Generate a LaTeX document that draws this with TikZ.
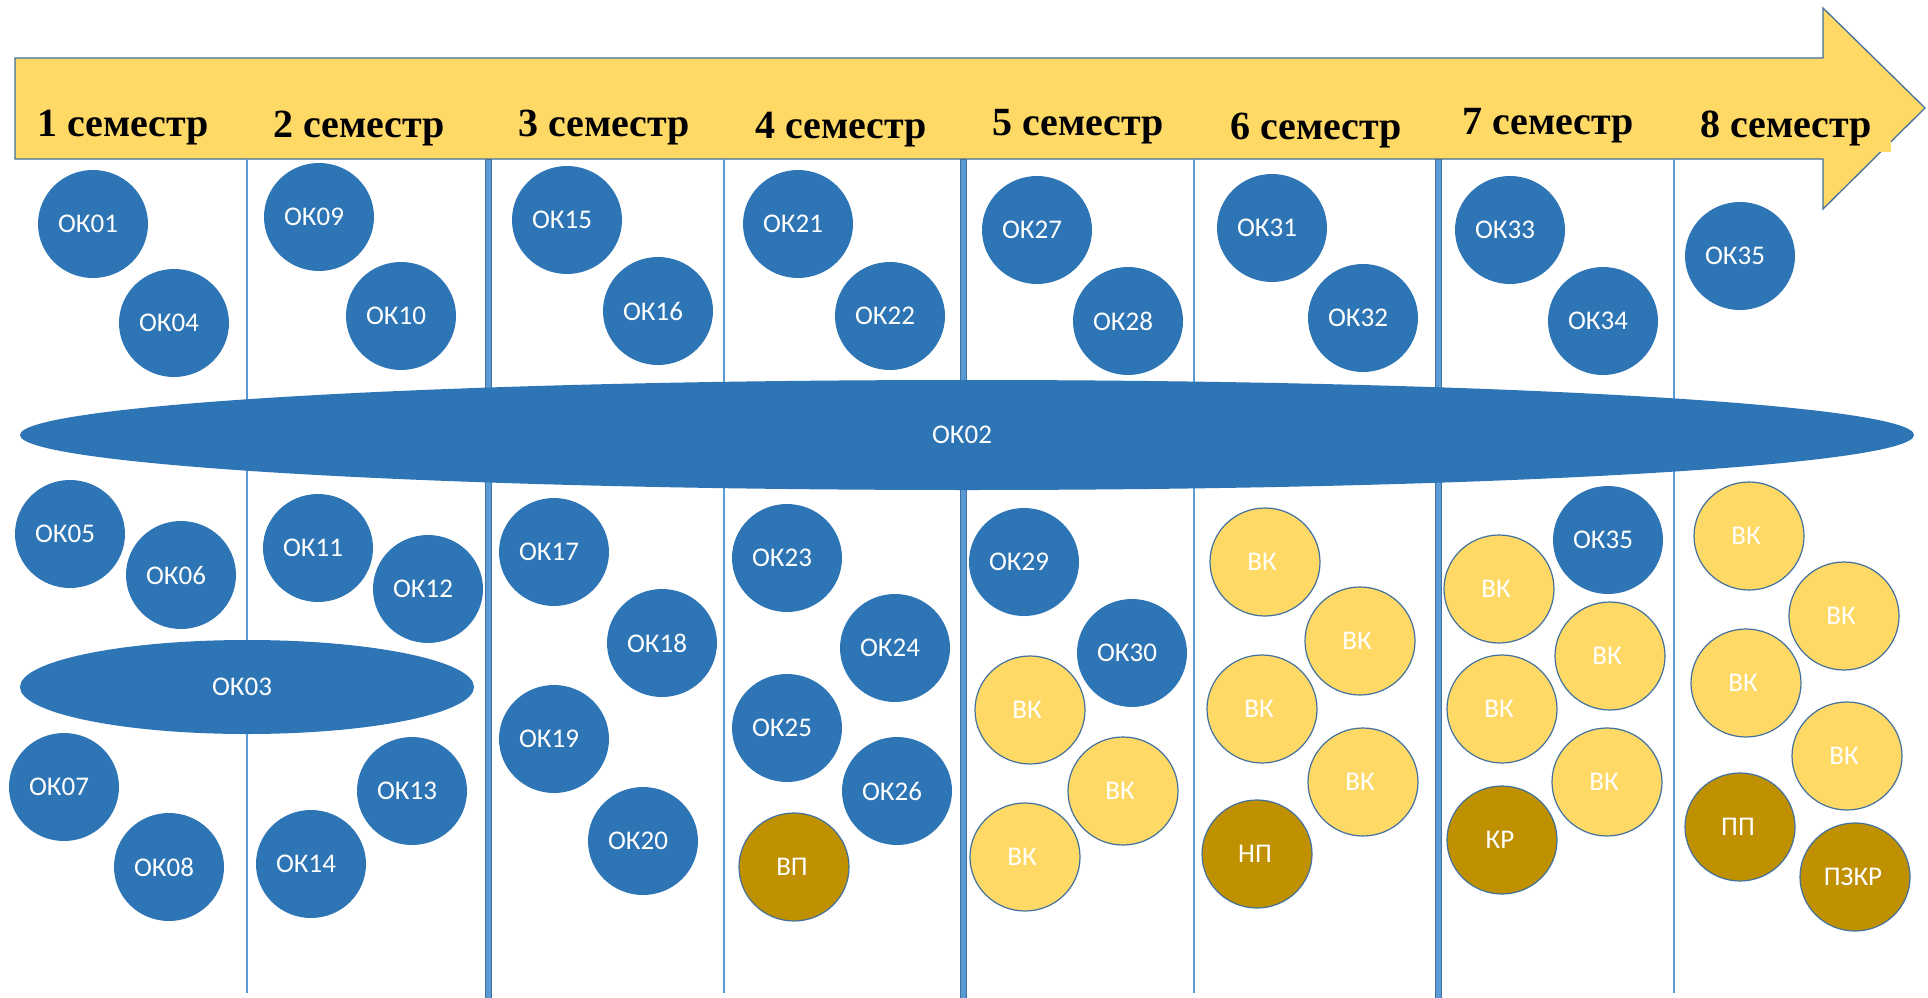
\documentclass[tikz,border=0pt]{standalone}
\usepackage{fontspec}
\setmainfont{Carlito}
\newfontfamily\hdrfont{Liberation Serif}
\usetikzlibrary{shapes.geometric}
\definecolor{okblue}{RGB}{46,117,182}
\definecolor{vkyellow}{RGB}{255,217,102}
\definecolor{goldc}{RGB}{191,144,0}
\definecolor{edgeblue}{RGB}{65,113,156}
\definecolor{sepblue}{RGB}{91,155,213}
\begin{document}
\begin{tikzpicture}[x=1pt,y=-1pt,
  ball/.style={ellipse, minimum width=110pt, minimum height=108pt, inner sep=0pt,
    text=white, font=\fontsize{27}{30}\selectfont},
  ok/.style={ball, fill=okblue, execute at begin node=\kern-10pt},
  vk/.style={ball, fill=vkyellow, draw=edgeblue, line width=1.2pt, execute at begin node=\kern-6pt},
  gp/.style={ball, fill=goldc, draw=edgeblue, line width=1.2pt, execute at begin node=\kern-4pt},
  longok/.style={ellipse, inner sep=0pt, fill=okblue, text=white,
    font=\fontsize{27}{30}\selectfont, execute at begin node=\kern-10pt},
  hdr/.style={anchor=base, inner sep=0pt, font=\hdrfont\bfseries\fontsize{40}{44}\selectfont},
  thinsep/.style={draw=sepblue, line width=1.5pt},
  thicksep/.style={fill=sepblue, draw=edgeblue, line width=0.7pt},
  arrowbody/.style={fill=vkyellow, draw=edgeblue, line width=1.3pt}
]
\useasboundingbox (0,0) rectangle (1928,998);
\fill[white] (0,0) rectangle (1928,998);

% timeline arrow
\filldraw[arrowbody] (15,58) -- (1823,58) -- (1823,8) -- (1925,108) -- (1823,209) -- (1823,159) -- (15,159) -- cycle;
\fill[vkyellow] (1860,135) rectangle (1891,152);

% semester headers
\node[hdr] (s1) at (123,136) {1 семестр};
\node[hdr] (s2) at (359,137) {2 семестр};
\node[hdr] (s3) at (604,136) {3 семестр};
\node[hdr] (s4) at (841,138) {4 семестр};
\node[hdr] (s5) at (1078,135) {5 семестр};
\node[hdr] (s6) at (1316,139) {6 семестр};
\node[hdr] (s7) at (1548,134) {7 семестр};
\node[hdr] (s8) at (1786,137) {8 семестр};

% column separators
\draw[thinsep] (247,159) -- (247,993);
\draw[thinsep] (724,159) -- (724,993);
\draw[thinsep] (1194,159) -- (1194,993);
\draw[thinsep] (1674,159) -- (1674,993);
\filldraw[thicksep] (485,159) rectangle (491,998);
\filldraw[thicksep] (960,159) rectangle (966,998);
\filldraw[thicksep] (1435,159) rectangle (1441,998);

% long ellipses
\node[longok, minimum width=1894pt, minimum height=110pt] (ok02) at (967,435) {ОК02};
\node[longok, minimum width=454pt, minimum height=94pt] (ok03) at (247,687) {ОК03};

% upper row
\node[ok] (ok01) at (93,224) {ОК01};
\node[ok] (ok04) at (174,323) {ОК04};
\node[ok] (ok09) at (319,217) {ОК09};
\node[ok] (ok10) at (401,316) {ОК10};
\node[ok] (ok15) at (567,220) {ОК15};
\node[ok] (ok16) at (658,311) {ОК16};
\node[ok] (ok21) at (798,224) {ОК21};
\node[ok] (ok22) at (890,316) {ОК22};
\node[ok] (ok27) at (1037,230) {ОК27};
\node[ok] (ok28) at (1128,321) {ОК28};
\node[ok] (ok31) at (1272,228) {ОК31};
\node[ok] (ok32) at (1363,318) {ОК32};
\node[ok] (ok33) at (1510,230) {ОК33};
\node[ok] (ok34) at (1603,321) {ОК34};
\node[ok] (ok35a) at (1740,256) {ОК35};

% semester 1
\node[ok] (ok05) at (70,534) {ОК05};
\node[ok] (ok06) at (181,575) {ОК06};
\node[ok] (ok07) at (64,787) {ОК07};
\node[ok] (ok08) at (169,867) {ОК08};
% semester 2
\node[ok] (ok11) at (318,548) {ОК11};
\node[ok] (ok12) at (428,589) {ОК12};
\node[ok] (ok13) at (412,791) {ОК13};
\node[ok] (ok14) at (311,864) {ОК14};
% semester 3
\node[ok] (ok17) at (554,552) {ОК17};
\node[ok] (ok18) at (662,643) {ОК18};
\node[ok] (ok19) at (554,739) {ОК19};
\node[ok] (ok20) at (643,841) {ОК20};
% semester 4
\node[ok] (ok23) at (787,558) {ОК23};
\node[ok] (ok24) at (895,648) {ОК24};
\node[ok] (ok25) at (787,728) {ОК25};
\node[ok] (ok26) at (897,791) {ОК26};
\node[gp] (vp) at (794,867) {ВП};
% semester 5
\node[ok] (ok29) at (1024,562) {ОК29};
\node[ok] (ok30) at (1132,653) {ОК30};
\node[vk] (vk51) at (1030,710) {ВК};
\node[vk] (vk52) at (1123,791) {ВК};
\node[vk] (vk53) at (1025,857) {ВК};
% semester 6
\node[vk] (vk61) at (1265,562) {ВК};
\node[vk] (vk62) at (1360,641) {ВК};
\node[vk] (vk63) at (1262,709) {ВК};
\node[vk] (vk64) at (1363,782) {ВК};
\node[gp] (np) at (1257,854) {НП};
% semester 7
\node[ok] (ok35b) at (1608,540) {ОК35};
\node[vk] (vk71) at (1499,589) {ВК};
\node[vk] (vk72) at (1610,656) {ВК};
\node[vk] (vk73) at (1502,709) {ВК};
\node[vk] (vk74) at (1607,782) {ВК};
\node[gp] (kr) at (1502,840) {КР};
% semester 8
\node[vk] (vk81) at (1749,536) {ВК};
\node[vk] (vk82) at (1844,616) {ВК};
\node[vk] (vk83) at (1746,683) {ВК};
\node[vk] (vk84) at (1847,756) {ВК};
\node[gp] (pp) at (1740,827) {ПП};
\node[gp] (pzkr) at (1855,877) {ПЗКР};
\end{tikzpicture}
\end{document}
